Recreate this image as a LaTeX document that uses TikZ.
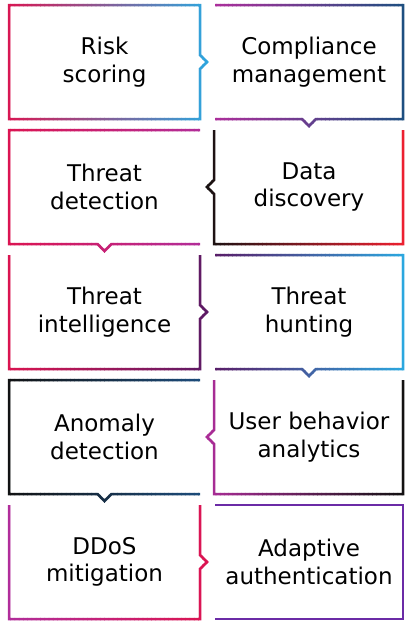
\documentclass[tikz,border=0pt]{standalone}
\usepackage{fontspec}
\setmainfont{DejaVu Sans}
\definecolor{crimson}{HTML}{DC1450}
\definecolor{skyblue}{HTML}{2BA8E0}
\definecolor{orchid}{HTML}{B02E9C}
\definecolor{navy}{HTML}{1D4F80}
\definecolor{alarm}{HTML}{EE2030}
\definecolor{plum}{HTML}{5A1A65}
\definecolor{ink}{HTML}{111111}
\definecolor{violet}{HTML}{6B2BA6}
\tikzset{boxtext/.style={align=center,font=\fontsize{23}{27.5}\selectfont},
  edge/.style={line width=2.5pt,line join=miter}}
\newcommand*{\gradpath}[5]{%
  \foreach \i in {0,...,47}{%
    \pgfmathtruncatemacro{\mixpct}{100-(\i+0.5)*100/48}%
    \begin{scope}
      \clip ({#1+(#2-#1)*\i/48},0) rectangle ({#1+(#2-#1)*(\i+1)/48+0.6},621);
      \draw[edge,#3!\mixpct!#4] #5;
    \end{scope}}}

\begin{document}
\begin{tikzpicture}[x=1pt,y=-1pt]
\useasboundingbox (0,0) rectangle (409,621);
\gradpath{6}{211}{crimson}{skyblue}{(9,5) -- (200,5) -- (200,55) -- (207,62) -- (200,69) -- (200,119) -- (9,119) -- cycle}
\gradpath{212}{406}{orchid}{navy}{(215,5) -- (403,5) -- (403,119) -- (316,119) -- (309,126) -- (302,119) -- (215,119)}
\gradpath{6}{211}{crimson}{orchid}{(200,130) -- (9,130) -- (9,244) -- (97.5,244) -- (104.5,251) -- (111.5,244) -- (200,244)}
\gradpath{203}{406}{ink}{alarm}{(214,130) -- (214,180) -- (207,187) -- (214,194) -- (214,244) -- (403,244) -- (403,130)}
\gradpath{6}{211}{crimson}{plum}{(9,255) -- (9,369) -- (200,369) -- (200,319) -- (207,312) -- (200,305) -- (200,255)}
\gradpath{212}{406}{plum}{skyblue}{(215,255) -- (403,255) -- (403,369) -- (316,369) -- (309,376) -- (302,369) -- (215,369)}
\gradpath{6}{211}{ink}{navy}{(200,380) -- (9,380) -- (9,494) -- (97.5,494) -- (104.5,501) -- (111.5,494) -- (200,494)}
\gradpath{203}{406}{orchid}{ink}{(214,380) -- (214,430) -- (207,437) -- (214,444) -- (214,494) -- (403,494) -- (403,380)}
\gradpath{6}{211}{orchid}{crimson}{(9,505) -- (9,619) -- (200,619) -- (200,569) -- (207,562) -- (200,555) -- (200,505)}
\draw[edge,violet] (215,505) -- (403,505) -- (403,619) -- (215,619);
\node[boxtext] (risk) at (104.5,62) {Risk\\scoring};
\node[boxtext] (compliance) at (309,62) {Compliance\\management};
\node[boxtext] (detection) at (104.5,187) {Threat\\detection};
\node[boxtext] (discovery) at (309,187) {Data\\discovery};
\node[boxtext] (intel) at (104.5,312) {Threat\\intelligence};
\node[boxtext] (hunting) at (309,312) {Threat\\hunting};
\node[boxtext] (anomaly) at (104.5,437) {Anomaly\\detection};
\node[boxtext] (behavior) at (309,437) {User behavior\\analytics};
\node[boxtext] (ddos) at (104.5,562) {DDoS\\mitigation};
\node[boxtext] (adaptive) at (309,562) {Adaptive\\authentication};
\end{tikzpicture}
\end{document}
